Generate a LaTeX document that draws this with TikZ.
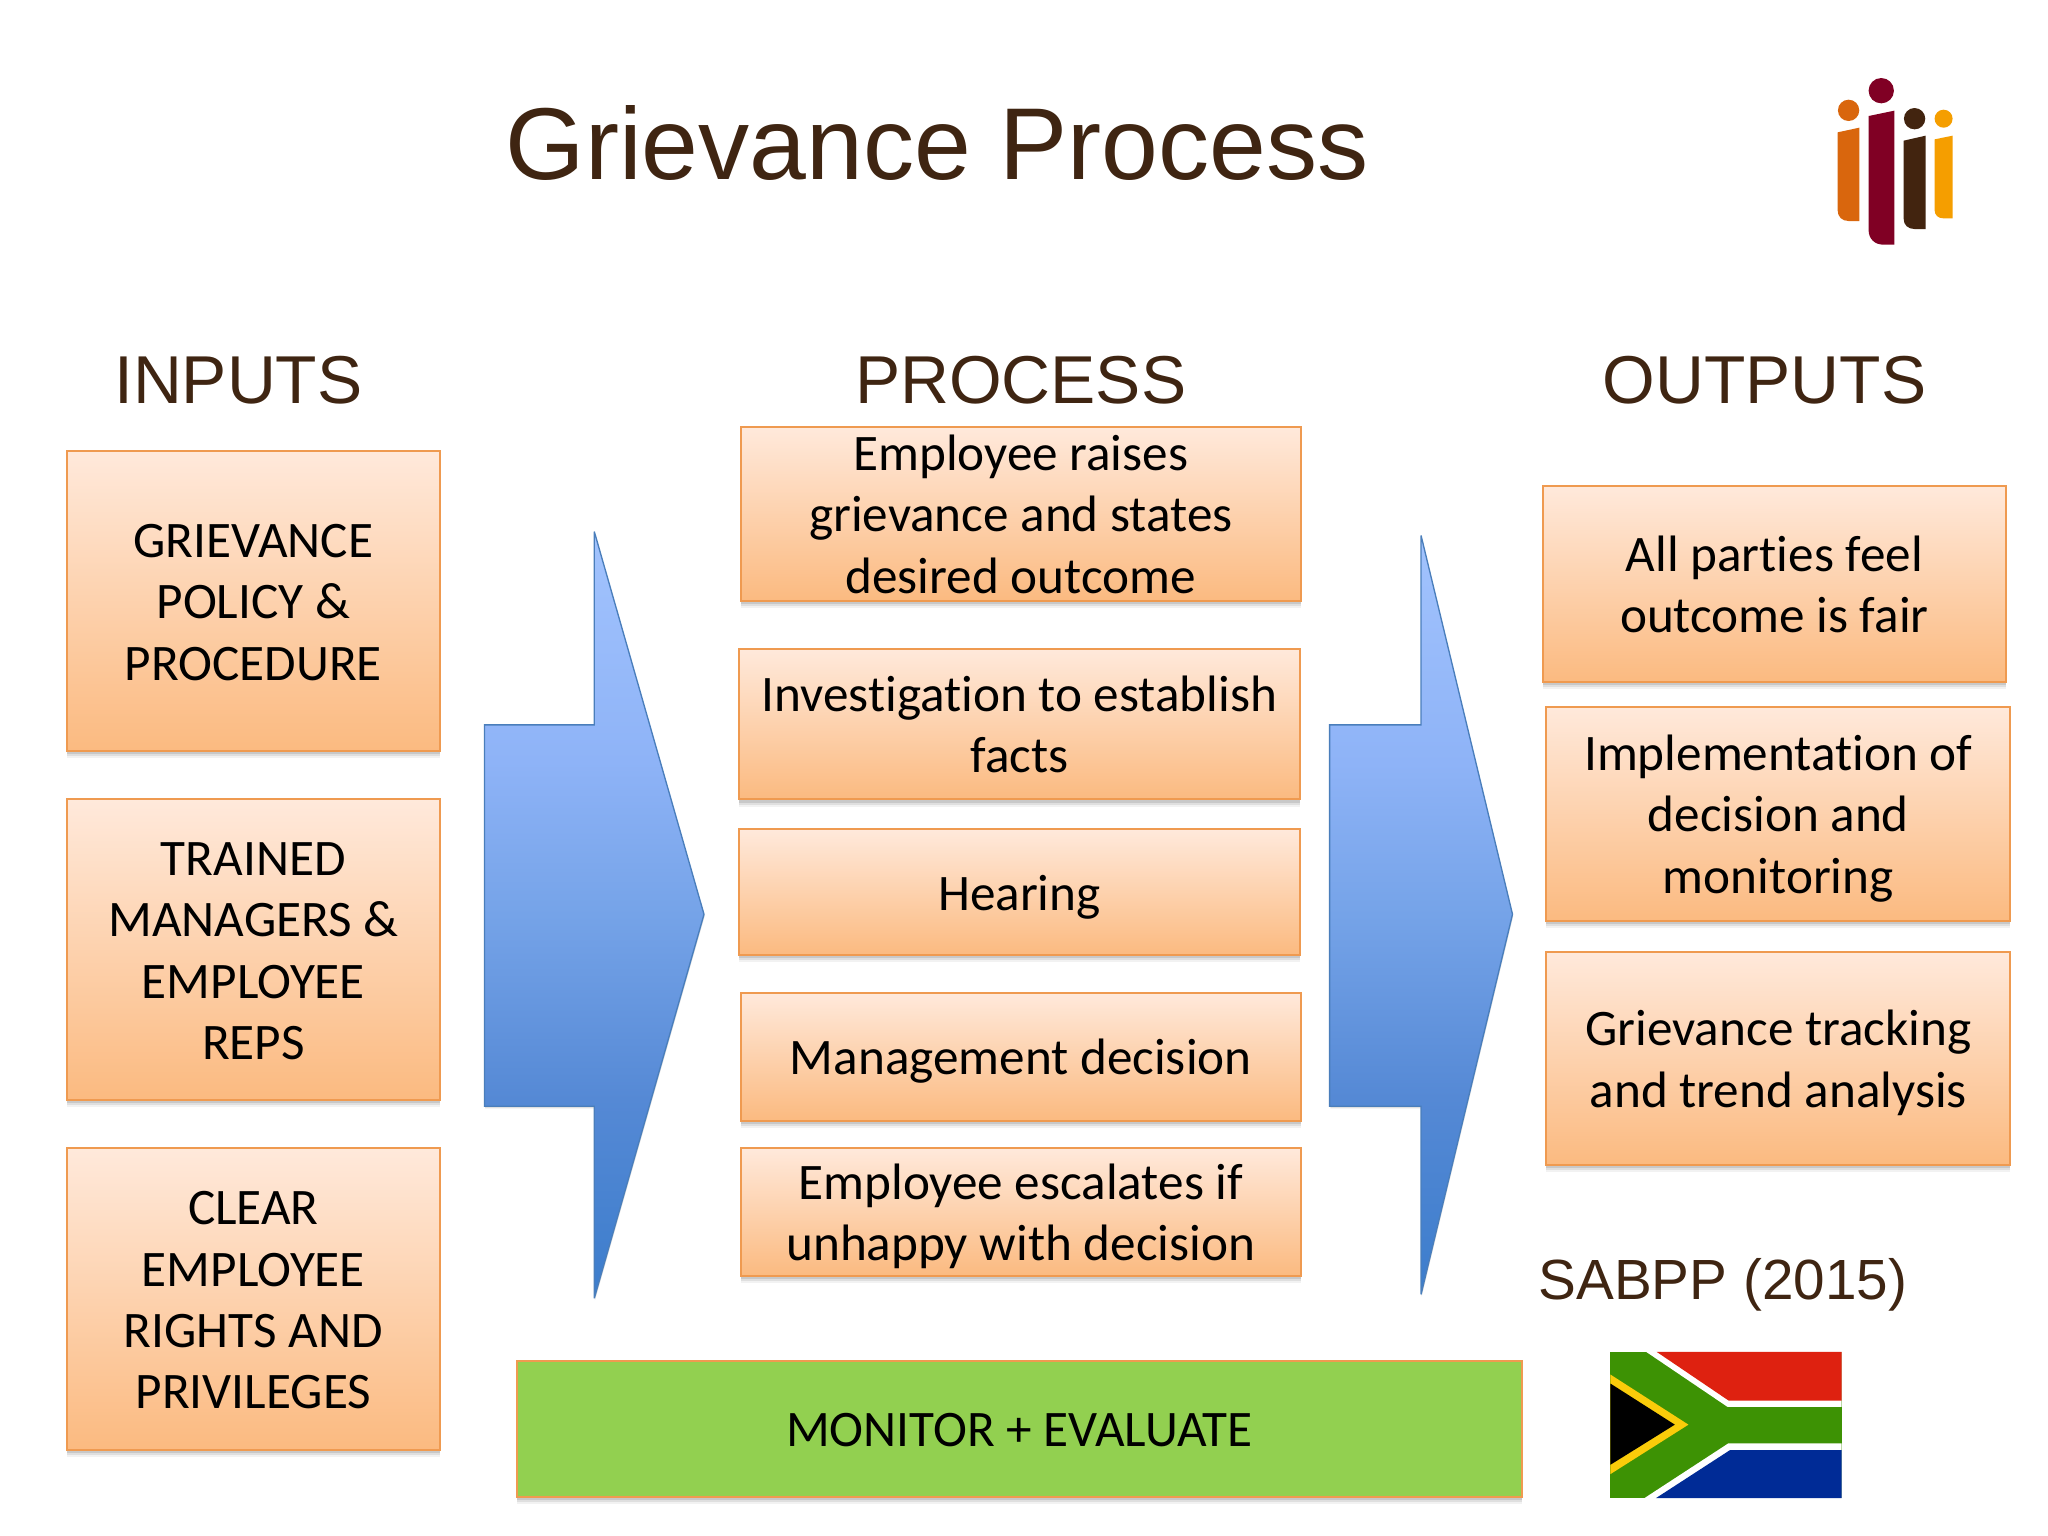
\documentclass[tikz,border=0pt]{standalone}
\usepackage{fontspec}
\setmainfont{Liberation Sans}
\newfontfamily\boxfont[Ligatures=NoCommon]{Carlito}
\usetikzlibrary{shadows}
\definecolor{titlebrown}{HTML}{3F2512}
\definecolor{boxedge}{HTML}{EF9A50}
\definecolor{boxtop}{HTML}{FFE9DB}
\definecolor{boxbot}{HTML}{FBBA80}
\definecolor{arrowedge}{HTML}{4A7EBB}
\definecolor{monitorgreen}{HTML}{92D050}
\definecolor{arrA}{HTML}{3C7DCC}
\definecolor{arrB}{HTML}{5589D5}
\definecolor{arrC}{HTML}{75A3E8}
\definecolor{arrD}{HTML}{8EB3F7}
\definecolor{arrE}{HTML}{A2C3FD}
\pgfdeclareverticalshading{arrowshade}{100bp}{
  color(0bp)=(arrA); color(25bp)=(arrA); color(38bp)=(arrB);
  color(50bp)=(arrC); color(60bp)=(arrD); color(75bp)=(arrE); color(100bp)=(arrE)}
\newcommand{\tallstrut}{\rule{0pt}{35pt}}
\newcommand{\deepstrut}{\rule[-8pt]{0pt}{8pt}}
\tikzset{
  softshadow/.style={
    drop shadow={shadow xshift=0pt,shadow yshift=-5.5pt,fill=black,opacity=.05},
    drop shadow={shadow xshift=0pt,shadow yshift=-4pt,fill=black,opacity=.08},
    drop shadow={shadow xshift=0pt,shadow yshift=-2.5pt,fill=black,opacity=.10}},
  boxtext/.style={inner sep=0pt,align=center,text=black,font=\boxfont\fontsize{38.4}{46}\selectfont},
  orangebox/.style={draw=boxedge,line width=1.5pt,top color=boxtop,bottom color=boxbot,softshadow,boxtext},
  greenbox/.style={draw=boxedge,line width=1.5pt,fill=monitorgreen,softshadow,boxtext},
  heading/.style={text=titlebrown,inner sep=0pt,font=\fontsize{50.8}{60}\selectfont},
  bigarrow/.style={draw=arrowedge,line width=1pt,shading=arrowshade,
    drop shadow={shadow xshift=0.5pt,shadow yshift=-1.5pt,fill=black,opacity=.12}},
}
% name, x1, y1, x2, y2, style, text
\newcommand{\placebox}[7]{%
  \node[#6,minimum width={(#4-#2)*0.9796pt},minimum height={(#5-#3)*0.9796pt}] (#1) at ({(#2+#4)/2},{(#3+#5)/2}) {\tallstrut#7\deepstrut};}
\begin{document}
\begin{tikzpicture}[x=0.9796pt,y=-0.9796pt]
\useasboundingbox (0,0) rectangle (1568,1176);
\fill[white] (0,0) rectangle (1568,1176);

\node[text=titlebrown,inner sep=0pt,font=\fontsize{76.6}{90}\selectfont] (title) at (717.5,109.5) {Grievance Process};
\node[heading] (inputs) at (182.5,291) {INPUTS};
\node[heading] (process) at (781.5,291) {PROCESS};
\node[heading] (outputs) at (1351,291) {OUTPUTS};

\placebox{a1}{51}{345}{337}{575}{orangebox}{GRIEVANCE\\POLICY \&\\PROCEDURE}
\placebox{a2}{51}{612}{337}{842}{orangebox}{TRAINED\\MANAGERS \&\\EMPLOYEE\\REPS}
\placebox{a3}{51}{879}{337}{1110}{orangebox}{CLEAR\\EMPLOYEE\\RIGHTS AND\\PRIVILEGES}

\placebox{p1}{567}{327}{996}{460}{orangebox,inner ysep=-4pt}{Employee raises\\grievance and states\\desired outcome}
\placebox{p2}{566}{497}{995}{612}{orangebox}{Investigation to establish\\facts}
\placebox{p3}{566}{635}{995}{731}{orangebox}{Hearing}
\placebox{p4}{567}{760}{996}{858}{orangebox}{Management decision}
\placebox{p5}{567}{879}{996}{977}{orangebox}{Employee escalates if\\unhappy with decision}

\placebox{o1}{1181}{372}{1536}{522}{orangebox}{All parties feel\\outcome is fair}
\placebox{o2}{1184}{541}{1539}{705}{orangebox}{Implementation of\\decision and\\monitoring}
\placebox{o3}{1184}{729}{1539}{892}{orangebox}{Grievance tracking\\and trend analysis}

\placebox{mon}{396}{1042}{1165}{1146}{greenbox}{MONITOR + EVALUATE}

\path[bigarrow,miter limit=3] (371,555) -- (455,555) -- (455,407) -- (539,700) -- (455,994) -- (455,847) -- (371,847) -- cycle;
\path[bigarrow,miter limit=3] (1018,555) -- (1088,555) -- (1088,410) -- (1158,700) -- (1088,991) -- (1088,847) -- (1018,847) -- cycle;

\node[text=titlebrown,inner sep=0pt,font=\fontsize{42.5}{50}\selectfont] (sabpp) at (1319,984) {SABPP (2015)};

% logo
\begin{scope}[shift={(1363,38.3)},x=0.25pt,y=-0.25pt]
  \fill[color={rgb,255:red,217;green,102;blue,13}] (205,181) circle[radius=32pt*0.25];
  \fill[color={rgb,255:red,217;green,102;blue,13}] (172,247) -- (237,233) -- (237,513) -- (205,513) .. controls (185,513) and (172,500) .. (172,480) -- cycle;
  \fill[color={rgb,255:red,128;green,0;blue,36}] (303,122) circle[radius=38pt*0.25];
  \fill[color={rgb,255:red,128;green,0;blue,36}] (265,198) -- (342,182) -- (342,584) -- (310,584) .. controls (283,584) and (265,566) .. (265,540) -- cycle;
  \fill[color={rgb,255:red,66;green,36;blue,15}] (403,206) circle[radius=32pt*0.25];
  \fill[color={rgb,255:red,66;green,36;blue,15}] (370,272) -- (436,257) -- (436,537) -- (403,537) .. controls (383,537) and (370,525) .. (370,505) -- cycle;
  \fill[color={rgb,255:red,245;green,158;blue,0}] (490,206) circle[radius=27pt*0.25];
  \fill[color={rgb,255:red,245;green,158;blue,0}] (463,268) -- (517,257) -- (517,505) -- (490,505) .. controls (473,505) and (463,495) .. (463,480) -- cycle;
\end{scope}

% flag
\begin{scope}[shift={(1233,1035)},x=0.2623pt,y=-0.2505pt]
  \fill[color={rgb,255:red,61;green,146;blue,4}] (0,0) rectangle (661,438);
  \fill[white] (102,0) -- (661,0) -- (661,165) -- (335,165) -- cycle;
  \fill[color={rgb,255:red,222;green,33;blue,16}] (132,0) -- (661,0) -- (661,146) -- (338,146) -- cycle;
  \fill[white] (97,438) -- (661,438) -- (661,274) -- (337,274) -- cycle;
  \fill[color={rgb,255:red,0;green,43;blue,150}] (130,438) -- (661,438) -- (661,294) -- (342,294) -- cycle;
  \fill[color={rgb,255:red,250;green,204;blue,10}] (0,68) -- (223,218) -- (0,366) -- cycle;
  \fill[black] (0,95) -- (184,218) -- (0,338) -- cycle;
\end{scope}
\end{tikzpicture}
\end{document}
